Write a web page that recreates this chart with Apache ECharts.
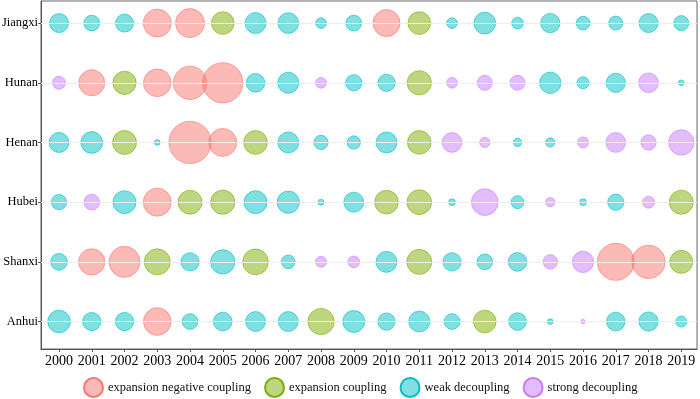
<!DOCTYPE html>
<html>
<head>
<meta charset="utf-8">
<script src="https://cdn.jsdelivr.net/npm/echarts@6/dist/echarts.min.js"></script>
<style>
  html, body { margin: 0; padding: 0; background: #fff; }
  #chart { width: 700px; height: 399px; }
</style>
</head>
<body>
<div id="chart"></div>
<script>
var years = ["2000", "2001", "2002", "2003", "2004", "2005", "2006", "2007", "2008", "2009",
  "2010", "2011", "2012", "2013", "2014", "2015", "2016", "2017", "2018", "2019"];
// bottom to top
var provinces = ["Anhui", "Shanxi", "Hubei", "Henan", "Hunan", "Jiangxi"];

var typeNames = ["expansion negative coupling", "expansion coupling", "weak decoupling", "strong decoupling"];
var typeCodes = ["N", "E", "W", "S"];

// N = expansion negative coupling, E = expansion coupling, W = weak decoupling, S = strong decoupling
var anhuiType   = "WWWNWWWWEWWWWEWWSWWW";
var shanxiType  = "WNNEWWEWSSWEWWWSSNNE";
var hubeiType   = "WSWNEEWWWWEEWSWSWWSE";
var henanType   = "WWEWNNEWWWWESSWWSSSS";
var hunanType   = "SNENNNWWSWWESSSWWWSW";
var jiangxiType = "WWWNNEWWWWNEWWWWWWWW";

var anhuiVal   = [2.27, 1.83, 1.83, 2.77, 1.57, 1.87, 2.00, 2.00, 2.63, 2.20, 1.73, 2.10, 1.57, 2.27, 1.77, 0.57, 0.43, 1.87, 1.93, 1.10];
var shanxiVal  = [1.67, 2.63, 3.10, 2.60, 1.83, 2.43, 2.57, 1.37, 1.10, 1.17, 2.10, 2.50, 1.83, 1.57, 1.87, 1.43, 2.13, 3.70, 3.33, 2.30];
var hubeiVal   = [1.53, 1.57, 2.30, 2.80, 2.40, 2.43, 2.30, 2.23, 0.60, 2.00, 2.37, 2.47, 0.67, 2.67, 1.30, 0.93, 0.67, 1.63, 1.20, 2.40];
var henanVal   = [2.00, 2.17, 2.40, 0.57, 4.23, 2.80, 2.37, 2.10, 1.43, 1.33, 2.10, 2.37, 1.97, 1.03, 0.83, 0.93, 1.10, 1.97, 1.53, 2.53];
var hunanVal   = [1.30, 2.60, 2.33, 2.77, 3.33, 4.03, 1.87, 2.10, 1.07, 1.63, 1.73, 2.43, 1.07, 1.50, 1.50, 2.13, 1.20, 1.93, 1.97, 0.57];
var jiangxiVal = [1.90, 1.57, 1.80, 2.80, 2.90, 2.27, 2.10, 2.07, 1.07, 1.57, 2.70, 2.27, 1.07, 2.17, 1.17, 1.93, 1.37, 1.40, 1.90, 1.50];

var typeRows = [anhuiType, shanxiType, hubeiType, henanType, hunanType, jiangxiType];
var valRows = [anhuiVal, shanxiVal, hubeiVal, henanVal, hunanVal, jiangxiVal];

var colors = ["#F8766D", "#7CAE00", "#00BFC4", "#C77CFF"];
var fills = ["rgba(248,118,109,0.5)", "rgba(124,174,0,0.5)", "rgba(0,191,196,0.5)", "rgba(199,124,255,0.5)"];

var font = "'Liberation Serif', 'Times New Roman', serif";

var chartDom = document.getElementById("chart");
var myChart = echarts.init(chartDom);

var series = typeCodes.map(function (code, k) {
  var data = [];
  typeRows.forEach(function (row, p) {
    for (var i = 0; i < years.length; i++) {
      if (row.charAt(i) === code) data.push([i, p, valRows[p][i]]);
    }
  });
  return {
    name: typeNames[k],
    type: "scatter",
    data: data,
    symbolSize: function (d) { return d[2] * 10; },
    itemStyle: { color: fills[k], borderColor: colors[k], borderWidth: 0.6, opacity: 1 },
    z: 3
  };
});

// light horizontal guide lines at each province
series.push({
  type: "scatter",
  data: [],
  silent: true,
  z: 1,
  markLine: {
    silent: true,
    symbol: "none",
    label: { show: false },
    lineStyle: { color: "#EDEDED", width: 1, type: "solid" },
    data: provinces.map(function (p, i) { return { yAxis: i }; })
  }
});

var option = {
  animation: false,
  grid: {
    left: 41, right: 3, top: 1, bottom: 50,
    outerBoundsMode: "none",
    containLabel: false,
    show: true, borderColor: "#666", borderWidth: 1
  },
  legend: {
    left: 78, top: 372,
    itemWidth: 19, itemHeight: 19, itemGap: 13,
    icon: "circle",
    data: typeNames,
    itemStyle: { borderWidth: 2 },
    textStyle: { fontFamily: font, fontSize: 12.5, color: "#111" }
  },
  xAxis: {
    type: "value",
    min: -0.55, max: 19.48,
    axisLine: { show: true, onZero: false, lineStyle: { color: "#555" } },
    axisTick: { show: true, length: 3, lineStyle: { color: "#555" }, customValues: years.map(function (y, i) { return i; }) },
    axisLabel: {
      customValues: years.map(function (y, i) { return i; }),
      formatter: function (v) { return years[Math.round(v)]; },
      fontFamily: font, fontSize: 14, color: "#000", margin: 5
    },
    splitLine: { show: false }
  },
  yAxis: {
    type: "value",
    min: -0.46, max: 5.37,
    axisLine: { show: true, onZero: false, lineStyle: { color: "#555" } },
    axisTick: { show: true, length: 3, lineStyle: { color: "#555" }, customValues: provinces.map(function (p, i) { return i; }) },
    axisLabel: {
      customValues: provinces.map(function (p, i) { return i; }),
      formatter: function (v) { return provinces[Math.round(v)]; },
      fontFamily: font, fontSize: 12.5, color: "#000", margin: 3
    },
    splitLine: { show: false }
  },
  series: series
};

option && myChart.setOption(option);
</script>
</body>
</html>
